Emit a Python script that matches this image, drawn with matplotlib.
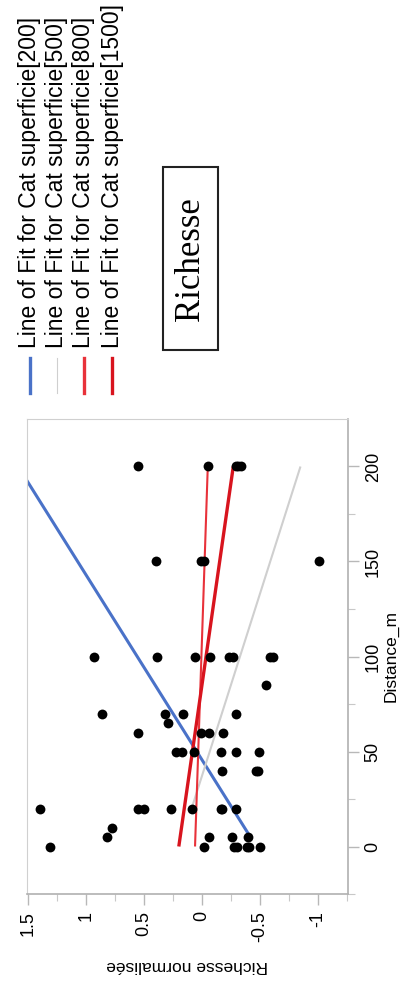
import numpy as np
import matplotlib
matplotlib.use('Agg')
from matplotlib import pyplot as plt
from matplotlib.lines import Line2D
from matplotlib.patches import Rectangle

plt.rcParams['font.family'] = ['Liberation Sans', 'DejaVu Sans']

# points: Distance_m vs Richesse normalisee
distance = [0, 0, 0, 0, 0, 0, 0,
            5, 5, 5, 5, 10,
            20, 20, 20, 20, 20, 20, 20, 20,
            40, 40, 40,
            50, 50, 50, 50, 50, 50,
            60, 60, 60, 60, 65,
            70, 70, 70, 70, 85,
            100, 100, 100, 100, 100, 100, 100, 100,
            150, 150, 150, 150,
            200, 200, 200, 200, 200]
richesse = [1.31, -0.02, -0.28, -0.30, -0.39, -0.41, -0.50,
            0.82, -0.06, -0.26, -0.40, 0.78,
            1.40, 0.55, 0.50, 0.27, 0.09, -0.16, -0.17, -0.29,
            -0.17, -0.47, -0.48,
            0.22, 0.17, 0.07, -0.16, -0.29, -0.49,
            0.55, 0.01, -0.06, -0.18, 0.29,
            0.86, 0.32, 0.16, -0.29, -0.55,
            0.93, 0.39, 0.06, -0.07, -0.23, -0.27, -0.59, -0.61,
            0.40, 0.01, -0.02, -1.01,
            0.55, -0.05, -0.29, -0.31, -0.34]

# lines of fit per category of superficie
categories = ['200', '500', '800', '1500']
fit_intercept = [-0.469, 0.194, 0.06, 0.20]
fit_slope = [0.01028, -0.00522, -0.00055, -0.00235]
fit_start = [5, 20, 0, 0]
fit_end = [200, 200, 200, 200]
fit_colors = ['#4a72c8', '#cfcfcf', '#e8323a', '#d8141e']
fit_widths = [2.2, 1.5, 1.5, 2.4]

rich_ticks = [1.5, 1, 0.5, 0, -0.5, -1]
dist_ticks = [0, 50, 100, 150, 200]

fig = plt.figure(figsize=(4, 9.88), dpi=100)
ax = fig.add_axes([27/400, 94/988, 321/400, 475/988])

for i in range(len(categories)):
    d = np.array([fit_start[i], fit_end[i]])
    r = fit_intercept[i] + fit_slope[i] * d
    ax.plot(r, d, color=fit_colors[i], lw=fit_widths[i], solid_capstyle='butt', zorder=2)

ax.scatter(richesse, distance, s=50, color='black', zorder=3, linewidths=0)

ax.set_xlim(1.51, -1.26)
ax.set_ylim(-25, 225)
ax.set_xticks(rich_ticks)
ax.set_xticklabels(['1.5', '1', '0.5', '0', '-0.5', '-1'], rotation=90)
ax.set_xticks(np.arange(-1.25, 1.5, 0.25), minor=True)
ax.yaxis.tick_right()
ax.yaxis.set_label_position('right')
ax.set_yticks(dist_ticks)
ax.set_yticklabels([str(t) for t in dist_ticks], rotation=90, va='center')
ax.set_yticks(np.arange(-25, 225, 25), minor=True)
ax.tick_params(which='major', length=8, width=1, color='#b8b8b8', labelsize=13, pad=4)
ax.tick_params(which='minor', length=5, width=0.8, color='#c8c8c8')
for side in ['top', 'left']:
    ax.spines[side].set_color('#d0d0d0')
for side in ['bottom', 'right']:
    ax.spines[side].set_color('#b0b0b0')
    ax.spines[side].set_linewidth(1.2)

ax.set_xlabel('Richesse normalisée', fontsize=12.5, rotation=180, labelpad=12)
ax.set_ylabel('Distance_m', fontsize=12.5, rotation=90, labelpad=1)

# legend, drawn sideways
leg_x = [30/400, 57/400, 84/400, 112/400]
for i in range(len(categories)):
    fig.add_artist(Line2D([leg_x[i], leg_x[i]], [1 - 393/988, 1 - 358/988],
                          color=fit_colors[i], lw=2.4 if i != 1 else 0.8,
                          transform=fig.transFigure))
    fig.text(leg_x[i], 1 - 348/988, 'Line of Fit for Cat superficie[' + categories[i] + ']',
             rotation=90, ha='center', va='bottom', fontsize=16.5)

fig.add_artist(Rectangle((163/400, 1 - 350/988), 55/400, 183/988, fill=False,
                         edgecolor='#222222', lw=1.5, transform=fig.transFigure))
fig.text(191/400, 1 - 259/988, 'Richesse', rotation=90, ha='center', va='center',
         fontsize=25, family=['Liberation Serif', 'DejaVu Serif'])

fig.savefig('out.png', dpi=100)
